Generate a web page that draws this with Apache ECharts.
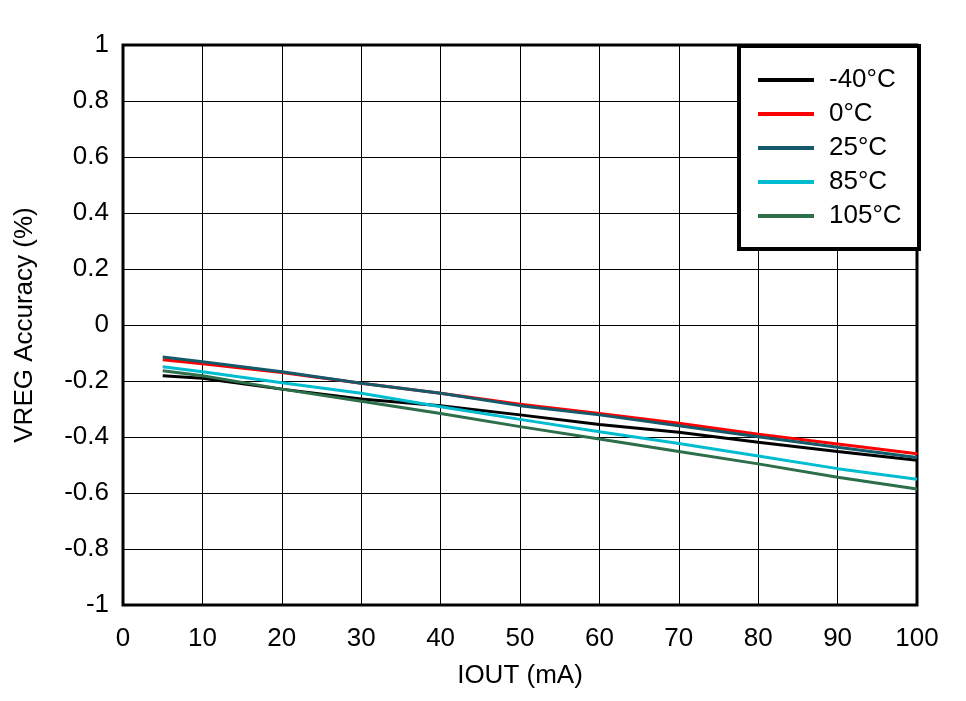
<!DOCTYPE html>
<html>
<head>
<meta charset="utf-8">
<script src="https://cdn.jsdelivr.net/npm/echarts@6/dist/echarts.min.js"></script>
<style>
  html, body { margin: 0; padding: 0; background: #fff; }
  #chart { width: 966px; height: 701px; }
</style>
</head>
<body>
<div id="chart"></div>
<script>
const iout = [5, 10, 20, 30, 40, 50, 60, 70, 80, 90, 100];
const seriesNames = ['-40°C', '0°C', '25°C', '85°C', '105°C'];
const seriesColors = ['#000000', '#ff0000', '#145a6a', '#00bcd0', '#2d6e4b'];
const tm40 = [-0.181, -0.19, -0.229, -0.264, -0.288, -0.321, -0.355, -0.383, -0.419, -0.452, -0.483];
const t0 = [-0.124, -0.138, -0.17, -0.208, -0.244, -0.283, -0.316, -0.351, -0.39, -0.425, -0.46];
const t25 = [-0.114, -0.131, -0.167, -0.208, -0.244, -0.288, -0.321, -0.36, -0.399, -0.437, -0.473];
const t85 = [-0.149, -0.167, -0.206, -0.244, -0.292, -0.337, -0.381, -0.423, -0.468, -0.513, -0.551];
const t105 = [-0.163, -0.181, -0.229, -0.272, -0.316, -0.363, -0.407, -0.452, -0.496, -0.544, -0.586];
const allValues = [tm40, t0, t25, t85, t105];

const chart = echarts.init(document.getElementById('chart'));
const font = 'Liberation Sans, Arial, sans-serif';

chart.setOption({
  animation: false,
  grid: {
    left: 123, right: 49, top: 45, bottom: 96,
    outerBoundsMode: 'none', containLabel: false,
    show: true, borderColor: '#000', borderWidth: 3, backgroundColor: '#fff'
  },
  xAxis: {
    type: 'value', min: 0, max: 100, interval: 10,
    name: 'IOUT (mA)', nameLocation: 'middle', nameGap: 58,
    nameTextStyle: { fontFamily: font, fontSize: 26, color: '#000' },
    axisLine: { show: false },
    axisTick: { show: false },
    axisLabel: { fontFamily: font, fontSize: 26, color: '#000', margin: 21 },
    splitLine: { show: true, lineStyle: { color: '#000', width: 1 } }
  },
  yAxis: {
    type: 'value', min: -1, max: 1, interval: 0.2,
    name: 'VREG Accuracy (%)', nameLocation: 'middle', nameGap: 85,
    nameTextStyle: { fontFamily: font, fontSize: 26, color: '#000' },
    axisLine: { show: false },
    axisTick: { show: false },
    axisLabel: {
      fontFamily: font, fontSize: 26, color: '#000', margin: 14,
      formatter: v => String(Math.round(v * 10) / 10)
    },
    splitLine: { show: true, lineStyle: { color: '#000', width: 1 } }
  },
  graphic: [{
    type: 'rect', left: 737, top: 44, z: 10,
    shape: { width: 180, height: 203 },
    style: { fill: '#fff', stroke: '#000', lineWidth: 4 }
  }],
  legend: {
    left: 753, top: 62, orient: 'vertical', z: 20,
    itemWidth: 56, itemHeight: 14, itemGap: 8,
    icon: 'path://M0,6 L56,6 L56,10 L0,10 Z',
    textStyle: { fontFamily: font, fontSize: 26, color: '#000', padding: [0, 0, 0, 10] },
    data: seriesNames
  },
  series: seriesNames.map((name, i) => ({
    name, type: 'line', showSymbol: false, symbol: 'none',
    color: seriesColors[i],
    lineStyle: { width: 3, color: seriesColors[i] },
    data: iout.map((x, j) => [x, allValues[i][j]])
  }))
});
</script>
</body>
</html>
